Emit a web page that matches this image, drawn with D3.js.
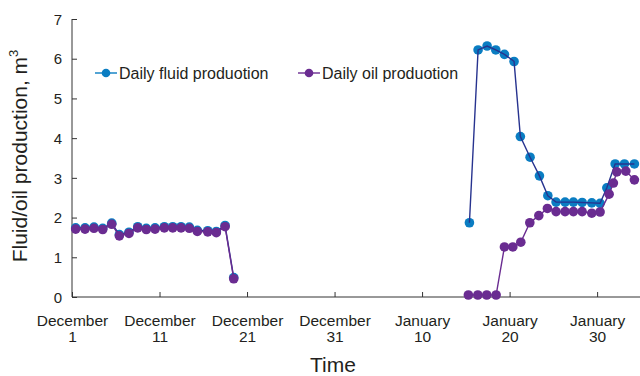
<!DOCTYPE html>
<html><head><meta charset="utf-8">
<script src="https://cdn.jsdelivr.net/npm/d3@7"></script>
<style>body{margin:0;background:#fff}svg{display:block;font-family:"Liberation Sans",Arial,sans-serif}</style>
</head><body><svg id="c" width="640" height="376"></svg>
<script>
// Day index: December 1 = 1, January 1 = 32
const tickDays = [1, 11, 21, 31, 41, 51, 61];
const tickMonths = ["December","December","December","December","January","January","January"];
const tickDates = ["1","11","21","31","10","20","30"];
const yTicks = [0,1,2,3,4,5,6,7];

const fluidDays1 = [1.42,2.49,3.51,4.51,5.54,6.41,7.51,8.51,9.49,10.49,11.55,12.51,13.46,14.41,15.32,16.51,17.49,18.49,19.48];
const fluidVals1 = [1.74,1.74,1.76,1.73,1.86,1.57,1.63,1.77,1.73,1.74,1.77,1.77,1.77,1.76,1.68,1.67,1.65,1.80,0.49];
const oilDays1 = fluidDays1;
const oilVals1 = [1.71,1.71,1.73,1.70,1.83,1.54,1.60,1.74,1.70,1.71,1.74,1.74,1.74,1.73,1.65,1.64,1.62,1.77,0.46];

const fluidDays2 = [46.41,47.40,48.43,49.42,50.41,51.51,52.23,53.34,54.41,55.37,56.31,57.34,58.29,59.29,60.39,61.34,62.11,63.06,64.12,65.26];
const fluidVals2 = [1.87,6.22,6.32,6.22,6.11,5.93,4.04,3.52,3.05,2.55,2.39,2.39,2.39,2.38,2.37,2.36,2.75,3.35,3.35,3.35];
const oilDays2 = [46.29,47.37,48.39,49.46,50.41,51.37,52.28,53.31,54.34,55.32,56.31,57.34,58.29,59.29,60.39,61.34,62.37,62.86,63.25,64.28,65.26];
const oilVals2 = [0.05,0.05,0.05,0.05,1.26,1.26,1.38,1.87,2.05,2.23,2.15,2.15,2.15,2.15,2.11,2.14,2.59,2.87,3.15,3.17,2.95];

const seriesNames = ["Daily fluid produotion","Daily oil produotion"];
const dotColors = ["#0a7dc2","#6a2c91"];
const lineColors = ["#27338f","#6a2c91"];

const svg = d3.select("#c");
const x = d3.scaleLinear().domain([1, 65.9]).range([72, 640]);
const y = d3.scaleLinear().domain([0, 7]).range([297, 19]);
const txt = "#231f20";

// axes
const gy = svg.append("g").attr("transform","translate(72,0)")
  .call(d3.axisRight(y).tickValues(yTicks).tickSize(5).tickFormat(d3.format("d")));
gy.select(".domain").attr("d","M0,"+y(7)+"V"+y(0)).attr("stroke","#333");
gy.selectAll(".tick line").attr("stroke","#333");
gy.selectAll(".tick text").attr("x",-10).attr("text-anchor","end").attr("font-size",15).attr("fill",txt).attr("dy","0.35em");

const gx = svg.append("g").attr("transform","translate(0,297)")
  .call(d3.axisTop(x).tickValues(tickDays).tickSize(5).tickFormat(""));
gx.select(".domain").attr("d","M72,0H640").attr("stroke","#333");
gx.selectAll(".tick line").attr("stroke","#333");
gx.selectAll(".tick").each(function(d,i){
  const t = d3.select(this).append("text").attr("text-anchor","middle").attr("font-size",15.5).attr("fill",txt);
  t.append("tspan").attr("x",0).attr("y",29).text(tickMonths[i]);
  t.append("tspan").attr("x",0).attr("y",45).text(tickDates[i]);
});

svg.append("text").attr("x",333).attr("y",372).attr("text-anchor","middle").attr("font-size",21).attr("fill",txt).text("Time");
const yl = svg.append("text").attr("transform","translate(27,156) rotate(-90)").attr("text-anchor","middle").attr("font-size",21).attr("fill",txt);
yl.append("tspan").text("Fluid/oil production, m");
yl.append("tspan").attr("font-size",13).attr("dy",-9).text("3");

const plot = svg.append("g");
const line = d3.line().x(d=>x(d[0])).y(d=>y(d[1]));
function seg(days, vals){ return days.map((d,i)=>[d, vals[i]]); }
const fluidSegs = [seg(fluidDays1,fluidVals1), seg(fluidDays2,fluidVals2)];
const oilSegs = [seg(oilDays1,oilVals1), seg(oilDays2,oilVals2)];

function drawDots(segs, color){
  segs.forEach(s=>{
    plot.append("g").selectAll("circle").data(s).join("circle")
      .attr("cx",d=>x(d[0])).attr("cy",d=>y(d[1])).attr("r",4.8).attr("fill",color);
  });
}
function drawLines(segs, color){
  segs.forEach(s=>{
    plot.append("path").datum(s).attr("d",line).attr("fill","none").attr("stroke",color).attr("stroke-width",1.4);
  });
}
drawDots(fluidSegs, dotColors[0]);
drawLines(fluidSegs, lineColors[0]);
drawDots(oilSegs, dotColors[1]);
drawLines(oilSegs, lineColors[1]);

// legend
const legX = [95, 298];
seriesNames.forEach((n,i)=>{
  const g = svg.append("g").attr("transform",`translate(${legX[i]},73)`);
  g.append("line").attr("x1",0).attr("x2",22).attr("stroke",i===0?dotColors[0]:lineColors[1]).attr("stroke-width",1.4);
  g.append("circle").attr("cx",11).attr("r",4.3).attr("fill",dotColors[i]);
  g.append("text").attr("x",24).attr("y",5.5).attr("font-size",16).attr("fill",txt).text(n);
});
</script></body></html>
